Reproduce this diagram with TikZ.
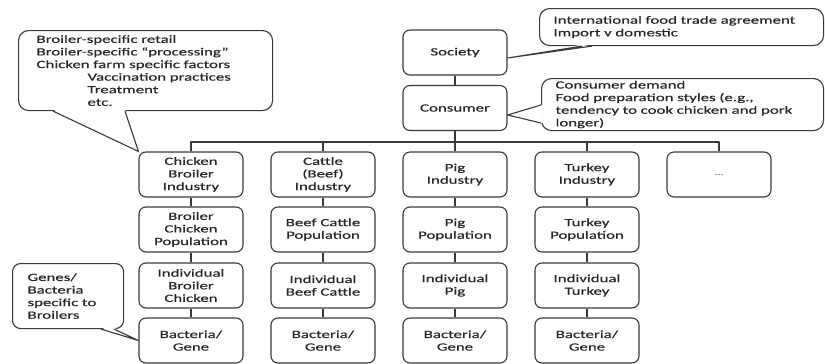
\documentclass[tikz,border=0pt]{standalone}
\usepackage{fontspec}
\setmainfont[FakeStretch=1.53,FakeBold=0.4]{Carlito}
\usetikzlibrary{calc}
\definecolor{ink}{HTML}{3A3A3A}
\definecolor{txt}{HTML}{262626}

\begin{document}
\begin{tikzpicture}[x=1pt,y=-1pt,
  base/.style={draw=ink, line width=1.1pt, rounded corners=7pt, fill=white,
    text=txt, font=\fontsize{11}{12.6}\selectfont},
  level/.style={base, minimum width=104pt, minimum height=45pt, align=center, inner sep=1pt},
  callout/.style={base, rounded corners=10pt, align=left, inner ysep=0pt, anchor=north west},
  link/.style={draw=ink, line width=1.1pt, line join=round}
]
% canvas
\fill[white] (0,0) rectangle (825,364);
\useasboundingbox (0,0) rectangle (825,364);

% top of the hierarchy
\node[level] (soc) at (455,52.5) {Society};
\node[level] (con) at (455,108) {Consumer};

% chicken column
\node[level] (chk1) at (191,174.5) {Chicken\\Broiler\\Industry};
\node[level] (chk2) at (191,229.5) {Broiler\\Chicken\\Population};
\node[level] (chk3) at (191,285.5) {Individual\\Broiler\\Chicken};
\node[level] (chk4) at (191,340.5) {Bacteria/\\Gene};

% cattle column
\node[level] (cat1) at (323,174.5) {Cattle\\(Beef)\\Industry};
\node[level] (cat2) at (323,229.5) {Beef Cattle\\Population};
\node[level] (cat3) at (323,285.5) {Individual\\Beef Cattle};
\node[level] (cat4) at (323,340.5) {Bacteria/\\Gene};

% pig column
\node[level] (pig1) at (455,174.5) {Pig\\Industry};
\node[level] (pig2) at (455,229.5) {Pig\\Population};
\node[level] (pig3) at (455,285.5) {Individual\\Pig};
\node[level] (pig4) at (455,340.5) {Bacteria/\\Gene};

% turkey column
\node[level] (tky1) at (587,174.5) {Turkey\\Industry};
\node[level] (tky2) at (587,229.5) {Turkey\\Population};
\node[level] (tky3) at (587,285.5) {Individual\\Turkey};
\node[level] (tky4) at (587,340.5) {Bacteria/\\Gene};

% further industries
\node[level, font=\fontsize{8}{10}\selectfont, text=gray] (more) at (719,174.5) {...};

% connectors
\coordinate (bus) at (455,142);
\draw[link] (soc) -- (con);
\draw[link] (con) -- (pig1);
\draw[link] (chk1.north) |- (bus) -| (more.north);
\draw[link] (cat1.north) -- (cat1.north |- bus);
\draw[link] (tky1.north) -- (tky1.north |- bus);
\foreach \c in {chk,cat,pig,tky}{
  \draw[link] (\c1) -- (\c2);
  \draw[link] (\c2) -- (\c3);
  \draw[link] (\c3) -- (\c4);
}

% callouts
\node[callout, minimum height=80pt, inner xsep=18pt, text width=218pt] (c1) at (18,30)
  {Broiler-specific retail\\
   Broiler-specific “processing”\\
   Chicken farm specific factors\\
   \hspace*{51pt}Vaccination practices\\
   \hspace*{51pt}Treatment\\
   \hspace*{51pt}etc.};
\node[callout, minimum height=37pt, inner xsep=14pt, text width=256pt] (c2) at (539,8)
  {International food trade agreement\\
   Import v domestic};
\node[callout, minimum height=52pt, inner xsep=14pt, text width=254pt] (c3) at (541,78)
  {Consumer demand\\
   Food preparation styles (e.g.,\\
   tendency to cook chicken and pork\\
   longer)};
\node[callout, rounded corners=8pt, minimum height=65pt, inner xsep=15pt, text width=81pt] (c4) at (12,263)
  {Genes/\\
   Bacteria\\
   specific to\\
   Broilers};

% callout pointers: white wedge over the box edge, then its two sides
\coordinate (p1a) at ($(c1.south west)+(35,0)$);
\coordinate (p1b) at ($(c1.south west)+(107,0)$);
\fill[white] ($(p1a)+(0,-1.5)$) -- ($(p1b)+(0,-1.5)$) -- (chk1.north west) -- cycle;
\draw[link] (p1a) -- (chk1.north west) -- (p1b);

\coordinate (t2) at ($(soc.east)+(0,5.5)$);
\coordinate (p2a) at ($(c2.south west)+(43,0)$);
\coordinate (p2b) at ($(c2.south west)+(53,0)$);
\fill[white] ($(p2a)+(0,-1.5)$) -- ($(p2b)+(0,-1.5)$) -- (t2) -- cycle;
\draw[link] (p2a) -- (t2) -- (p2b);

\coordinate (t3) at ($(con.east)+(0,7)$);
\coordinate (p3a) at ($(c3.north west)+(0,27)$);
\coordinate (p3b) at ($(c3.north west)+(0,45)$);
\fill[white] ($(p3a)+(1.5,0)$) -- ($(p3b)+(1.5,0)$) -- (t3) -- cycle;
\draw[link] (p3a) -- (t3) -- (p3b);

\coordinate (p4a) at ($(c4.south west)+(89,0)$);
\coordinate (p4b) at ($(c4.south west)+(102,0)$);
\fill[white] ($(p4a)+(0,-1.5)$) -- ($(p4b)+(0,-1.5)$) -- (chk4.west) -- cycle;
\draw[link] (p4a) -- (chk4.west) -- (p4b);
\end{tikzpicture}
\end{document}
